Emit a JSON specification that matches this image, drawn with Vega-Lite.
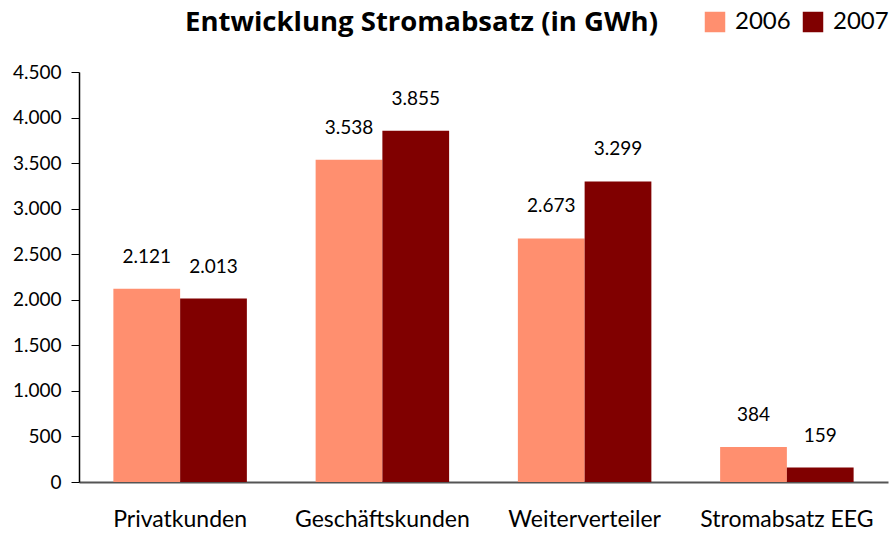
{
  "$schema": "https://vega.github.io/schema/vega-lite/v6.json",
  "width": 809,
  "height": 410,
  "autosize": {"type": "none"},
  "padding": {"left": 79, "top": 72, "right": 3, "bottom": 57},
  "background": "white",
  "title": {
    "text": "Entwicklung Stromabsatz (in GWh)",
    "anchor": "start",
    "frame": "group",
    "dx": 106,
    "offset": -48,
    "baseline": "alphabetic",
    "font": "Open Sans",
    "fontSize": 27.5,
    "fontWeight": "bold",
    "color": "black"
  },
  "config": {
    "locale": {"number": {"decimal": ",", "thousands": ".", "grouping": [3], "currency": ["", " €"]}},
    "view": {"stroke": null},
    "font": "Lato"
  },
  "data": {
    "values": [
      {"kategorie": "Privatkunden", "jahr": "2006", "wert": 2121},
      {"kategorie": "Privatkunden", "jahr": "2007", "wert": 2013},
      {"kategorie": "Geschäftskunden", "jahr": "2006", "wert": 3538},
      {"kategorie": "Geschäftskunden", "jahr": "2007", "wert": 3855},
      {"kategorie": "Weiterverteiler", "jahr": "2006", "wert": 2673},
      {"kategorie": "Weiterverteiler", "jahr": "2007", "wert": 3299},
      {"kategorie": "Stromabsatz EEG", "jahr": "2006", "wert": 384},
      {"kategorie": "Stromabsatz EEG", "jahr": "2007", "wert": 159}
    ]
  },
  "encoding": {
    "x": {
      "field": "kategorie",
      "type": "nominal",
      "sort": null,
      "scale": {"paddingInner": 0.34, "paddingOuter": 0.17},
      "axis": {
        "title": null,
        "labelAngle": 0,
        "labelFontSize": 23,
        "labelColor": "black",
        "labelPadding": 26,
        "ticks": false,
        "domainColor": "#555555",
        "domainWidth": 2
      }
    },
    "xOffset": {"field": "jahr", "type": "nominal"},
    "y": {
      "field": "wert",
      "type": "quantitative",
      "scale": {"domain": [0, 4500], "nice": false},
      "axis": {
        "title": null,
        "values": [0, 500, 1000, 1500, 2000, 2500, 3000, 3500, 4000, 4500],
        "format": ",d",
        "grid": false,
        "labelFontSize": 19,
        "labelColor": "black",
        "labelPadding": 10,
        "tickSize": 8,
        "tickColor": "black",
        "domainColor": "black",
        "domainWidth": 1.5
      }
    }
  },
  "layer": [
    {
      "mark": {"type": "bar"},
      "encoding": {
        "color": {
          "field": "jahr",
          "type": "nominal",
          "scale": {"domain": ["2006", "2007"], "range": ["#FF8F6F", "#800000"]},
          "legend": {
            "title": null,
            "orient": "none",
            "legendX": 624,
            "legendY": -62,
            "direction": "horizontal",
            "symbolType": "square",
            "symbolSize": 420,
            "symbolStrokeWidth": 0,
            "labelFontSize": 24,
            "labelColor": "black",
            "labelOffset": 8,
            "columnPadding": 10
          }
        }
      }
    },
    {
      "mark": {"type": "text", "dy": -22, "baseline": "bottom", "fontSize": 19, "color": "black"},
      "encoding": {
        "text": {"field": "wert", "type": "quantitative", "format": ",d"}
      }
    }
  ]
}
